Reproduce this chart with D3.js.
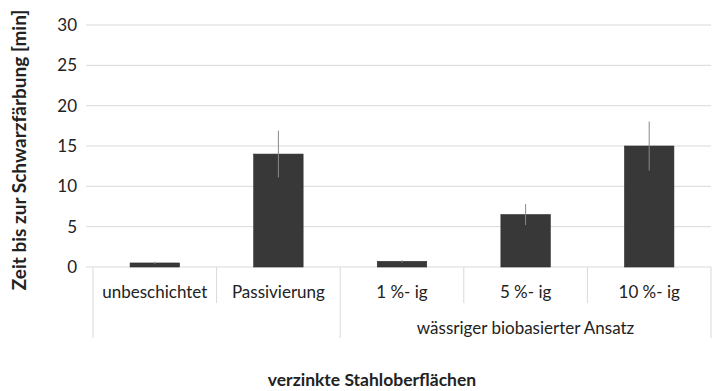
<!DOCTYPE html>
<html>
<head>
<meta charset="utf-8">
<script src="https://cdn.jsdelivr.net/npm/d3@7"></script>
<style>
  body { margin: 0; background: #fff; }
  text { font-family: Lato, "Open Sans", sans-serif; fill: #222; }
</style>
</head>
<body>
<div id="chart"></div>
<script>

var categories = ['unbeschichtet', 'Passivierung', '1 %- ig', '5 %- ig', '10 %- ig']
var values = [0.5, 14, 0.7, 6.5, 15]
var errors = [0.15, 2.9, 0.15, 1.3, 3.05]
var yTicks = [0, 5, 10, 15, 20, 25, 30]
var groupLabel = 'wässriger biobasierter Ansatz'
var groupStart = 2
var xTitle = 'verzinkte Stahloberflächen'
var yTitle = 'Zeit bis zur Schwarzfärbung [min]'

var width = 715
var height = 391
var plotLeft = 93, plotRight = 711, plotTop = 25, plotBottom = 267

var svg = d3.select('#chart')
  .append('svg')
  .attr('width', width)
  .attr('height', height)

var x = d3.scaleBand()
  .domain(categories)
  .range([plotLeft, plotRight])
  .paddingInner(0.6)
  .paddingOuter(0.3)

var y = d3.scaleLinear()
  .domain([0, 30])
  .range([plotBottom, plotTop])

// gridlines
svg.append('g')
  .selectAll('line')
  .data(yTicks)
  .join('line')
    .attr('x1', plotLeft - 7)
    .attr('x2', plotRight)
    .attr('y1', d => y(d))
    .attr('y2', d => y(d))
    .attr('stroke', '#d9d9d9')
    .attr('stroke-width', 1)

// y tick labels
svg.append('g')
  .selectAll('text')
  .data(yTicks)
  .join('text')
    .attr('x', 77)
    .attr('y', d => y(d))
    .attr('dy', '0.35em')
    .attr('text-anchor', 'end')
    .style('font-size', '17px')
    .text(d => d)

// bars
svg.append('g')
  .selectAll('rect')
  .data(values)
  .join('rect')
    .attr('x', (d, i) => x(categories[i]))
    .attr('y', d => y(d))
    .attr('width', x.bandwidth())
    .attr('height', d => plotBottom - y(d))
    .attr('fill', '#383838')
    .attr('stroke', '#2e2e2e')
    .attr('stroke-width', 0.6)

// error bars
svg.append('g')
  .selectAll('line')
  .data(values)
  .join('line')
    .attr('x1', (d, i) => x(categories[i]) + x.bandwidth() / 2)
    .attr('x2', (d, i) => x(categories[i]) + x.bandwidth() / 2)
    .attr('y1', (d, i) => y(d + errors[i]))
    .attr('y2', (d, i) => y(d - errors[i]))
    .attr('stroke', '#8a8a8a')
    .attr('stroke-width', 1)

// category separators
var step = (plotRight - plotLeft) / categories.length
var bounds = d3.range(categories.length + 1).map(i => plotLeft + i * step)

svg.append('g')
  .selectAll('line')
  .data(bounds)
  .join('line')
    .attr('x1', d => d)
    .attr('x2', d => d)
    .attr('y1', plotBottom)
    .attr('y2', (d, i) => (i == 0 || i == groupStart || i == categories.length) ? 338 : 303)
    .attr('stroke', '#d9d9d9')
    .attr('stroke-width', 1)

// category labels
svg.append('g')
  .selectAll('text')
  .data(categories)
  .join('text')
    .attr('x', d => x(d) + x.bandwidth() / 2)
    .attr('y', 292)
    .attr('dy', '0.35em')
    .attr('text-anchor', 'middle')
    .style('font-size', '17px')
    .text(d => d)

svg.append('text')
  .attr('x', (bounds[groupStart] + bounds[categories.length]) / 2)
  .attr('y', 328)
  .attr('dy', '0.35em')
  .attr('text-anchor', 'middle')
  .style('font-size', '17px')
  .text(groupLabel)

// axis titles
svg.append('text')
  .attr('x', 372)
  .attr('y', 380)
  .attr('dy', '0.35em')
  .attr('text-anchor', 'middle')
  .style('font-size', '17.5px')
  .style('font-weight', 'bold')
  .text(xTitle)

svg.append('text')
  .attr('transform', 'translate(19,150) rotate(-90)')
  .attr('dy', '0.35em')
  .attr('text-anchor', 'middle')
  .style('font-size', '19px')
  .style('font-weight', 'bold')
  .text(yTitle)

</script>
</body>
</html>
